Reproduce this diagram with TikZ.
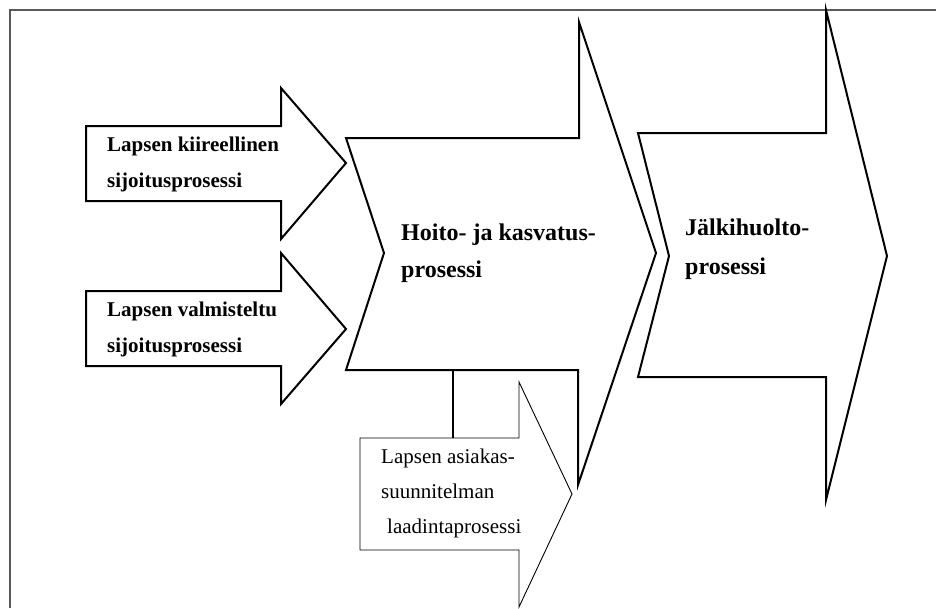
\documentclass[tikz,border=0pt]{standalone}
\usepackage{fontspec}
\setmainfont{Liberation Serif}
\begin{document}
\begin{tikzpicture}[x=1pt,y=-1pt,
  frameline/.style={draw=black!65,line width=1.3pt},
  boldarrow/.style={draw=black,fill=white,line width=2pt,line join=miter},
  thinarrow/.style={draw=black,fill=white,line width=0.9pt,line join=miter},
  lbl/.style={anchor=base west,inner sep=0pt,align=left},
  smalltxt/.style={lbl,font=\bfseries\fontsize{21}{36}\selectfont},
  bigtxt/.style={lbl,font=\bfseries\fontsize{24}{37}\selectfont},
  plaintxt/.style={lbl,font=\fontsize{21}{35}\selectfont}]
\useasboundingbox (0,0) rectangle (936,608);
% frame
\draw[frameline] (10,608) -- (10,10) -- (936,10);

% left input arrows
\draw[boldarrow] (86,126) -- (281,126) -- (281,88) -- (346,163) -- (281,239) -- (281,201) -- (86,201) -- cycle;
\draw[boldarrow] (86,291) -- (281,291) -- (281,253) -- (346,329) -- (281,404) -- (281,366) -- (86,366) -- cycle;

% main process chevron
\draw[boldarrow] (346,138) -- (579,138) -- (579,22) -- (656,253) -- (578,485) -- (578,370) -- (346,370) -- (384,253) -- cycle;
\coordinate (hoitoBottom) at (453,370);

% aftercare chevron
\draw[boldarrow] (638,133) -- (826,133) -- (826,10) -- (887,256) -- (826,500) -- (826,377) -- (638,377) -- (669,256) -- cycle;

% planning arrow
\draw[thinarrow] (360,438) -- (519,438) -- (519,382) -- (572,494) -- (519,607) -- (519,550) -- (360,550) -- cycle;
\coordinate (planTop) at (453,438);
\draw[line width=2pt] (hoitoBottom) -- (planTop);

% labels
\node[smalltxt] (t1a) at (107,151) {Lapsen kiireellinen};
\node[smalltxt] (t1b) at (107,187) {sijoitusprosessi};
\node[smalltxt] (t2a) at (107,316) {Lapsen valmisteltu};
\node[smalltxt] (t2b) at (107,352) {sijoitusprosessi};
\node[bigtxt] (t3a) at (401,240) {Hoito- ja kasvatus-};
\node[bigtxt] (t3b) at (401,277) {prosessi};
\node[bigtxt] (t4a) at (685,235) {Jälkihuolto-};
\node[bigtxt] (t4b) at (685,274) {prosessi};
\node[plaintxt] (t5a) at (381,463) {Lapsen asiakas-};
\node[plaintxt] (t5b) at (381,498) {suunnitelman};
\node[plaintxt] (t5c) at (387,533) {laadintaprosessi};
\end{tikzpicture}
\end{document}
